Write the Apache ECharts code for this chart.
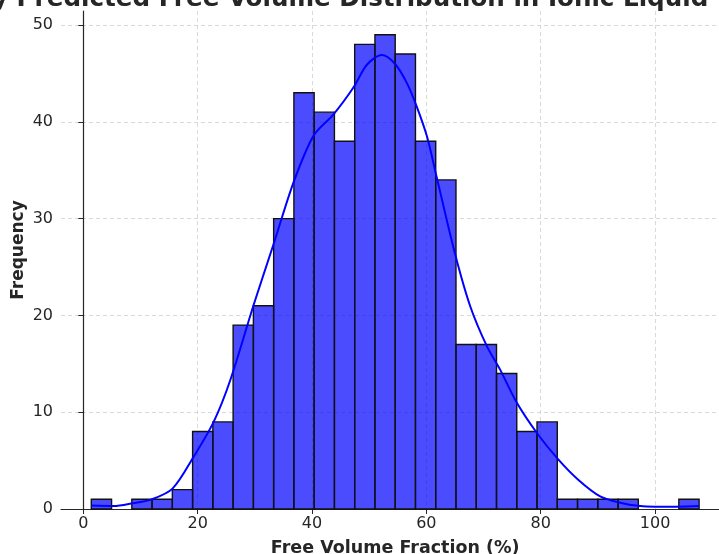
<!DOCTYPE html>
<html>
<head>
<meta charset="utf-8">
<script src="https://cdn.jsdelivr.net/npm/echarts@6/dist/echarts.min.js"></script>
<style>
  html, body { margin: 0; padding: 0; background: #fff; }
  #chart { width: 719px; height: 554px; }
</style>
</head>
<body>
<div id="chart"></div>
<script>
// histogram: 30 equal bins between the data min and max
var binLow = 1.4;
var binHigh = 107.7;
var counts = [1, 0, 1, 1, 2, 8, 9, 19, 21, 30, 43, 41, 38, 48, 49, 47, 38, 34, 17, 17, 14, 8, 9, 1, 1, 1, 1, 0, 0, 1];

// kde curve
var kdeX = [1.4, 5.3, 8.7, 12.0, 15.6, 19.3, 22.8, 25.7, 29.8, 33.3, 36.8, 40.3, 43.8, 47.3, 49.6, 52.2, 54.5, 56.6, 58.3, 60.1, 61.8, 65.0, 67.7, 70.6, 72.9, 75.8, 79.4, 83.1, 86.6, 90.4, 93.9, 97.4, 100.0, 103.8, 107.7];
var kdeY = [0.35, 0.3, 0.6, 1.0, 2.1, 5.4, 9.0, 13.3, 21.1, 27.4, 33.8, 38.6, 40.8, 43.6, 45.9, 46.9, 46.0, 44.0, 41.6, 38.5, 34.3, 26.4, 20.9, 16.8, 14.4, 11.0, 7.8, 5.1, 3.0, 1.3, 0.65, 0.3, 0.24, 0.24, 0.3];

var xTicks = [0, 20, 40, 60, 80, 100];
var yTicks = [0, 10, 20, 30, 40, 50];

var chart = echarts.init(document.getElementById('chart'));

var binWidth = (binHigh - binLow) / counts.length;
var histData = counts.map(function(c, i){
	return [binLow + i * binWidth, binLow + (i + 1) * binWidth, c];
});
var kdeData = kdeX.map(function(x, i){ return [x, kdeY[i]]; });

var gridLine = { show: true, lineStyle: { color: '#cfcfcf', type: [4, 3], width: 0.8 } };
var axisText = { fontFamily: 'DejaVu Sans', fontSize: 16, color: '#262626' };
var nameText = { fontFamily: 'DejaVu Sans', fontSize: 17, fontWeight: 'bold', color: '#262626' };

var option = {
	animation: false,
	grid: { left: 61, right: -10.4, top: 11, bottom: 45, containLabel: false, outerBoundsMode: 'none' },
	graphic: [{
		type: 'text',
		left: -8,
		top: -13,
		style: {
			text: 'y Predicted Free Volume Distribution in Ionic Liquid',
			font: 'bold 24.6px "DejaVu Sans"',
			fill: '#262626'
		}
	}],
	xAxis: {
		type: 'value',
		min: -3.9,
		max: 113,
		name: 'Free Volume Fraction (%)',
		nameLocation: 'middle',
		nameGap: 30,
		nameMoveOverlap: false,
		nameTextStyle: Object.assign({}, nameText, { fontSize: 17.5 }),
		axisLine: { lineStyle: { color: '#262626', width: 1.2 } },
		axisTick: { show: true, length: 5, customValues: xTicks, lineStyle: { color: '#262626' } },
		axisLabel: Object.assign({ customValues: xTicks, margin: 7 }, axisText),
		splitLine: gridLine
	},
	yAxis: {
		type: 'value',
		min: 0,
		max: 51.45,
		name: 'Frequency',
		nameLocation: 'middle',
		nameGap: 34,
		nameMoveOverlap: false,
		nameTextStyle: Object.assign({}, nameText, { padding: [0, 0, 0, 20] }),
		axisLine: { show: true, lineStyle: { color: '#262626', width: 1.2 } },
		axisTick: { show: true, length: 5, customValues: yTicks, lineStyle: { color: '#262626' } },
		axisLabel: Object.assign({ customValues: yTicks, margin: 8 }, axisText),
		splitLine: gridLine
	},
	series: [
		{
			type: 'custom',
			data: histData,
			encode: { x: [0, 1], y: 2 },
			z: 2,
			renderItem: function(params, api){
				var c = api.value(2);
				if(c <= 0){ return; }
				var p0 = api.coord([api.value(0), 0]);
				var p1 = api.coord([api.value(1), c]);
				return {
					type: 'rect',
					shape: { x: p0[0], y: p1[1], width: p1[0] - p0[0], height: p0[1] - p1[1] },
					style: { fill: 'rgba(0,0,255,0.7)', stroke: '#111', lineWidth: 1.4 }
				};
			}
		},
		{
			type: 'line',
			data: kdeData,
			smooth: 0.3,
			showSymbol: false,
			z: 3,
			lineStyle: { color: '#0000ff', width: 2 }
		}
	]
};

chart.setOption(option);
</script>
</body>
</html>
